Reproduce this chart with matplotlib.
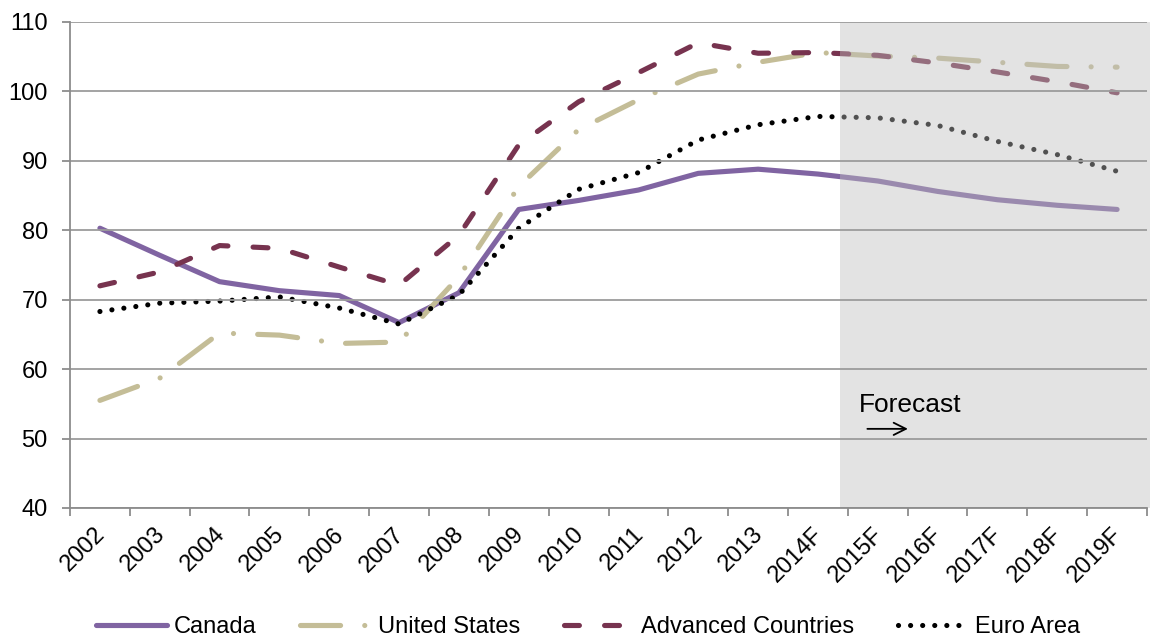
import matplotlib
matplotlib.use("Agg")
import matplotlib.pyplot as plt
from matplotlib.patches import Rectangle
from matplotlib.lines import Line2D
import matplotlib.transforms as mtransforms
import numpy as np

plt.rcParams['font.family'] = ['Liberation Sans', 'DejaVu Sans']

years = ['2002', '2003', '2004', '2005', '2006', '2007', '2008', '2009', '2010',
         '2011', '2012', '2013', '2014F', '2015F', '2016F', '2017F', '2018F', '2019F']
canada = [80.3, 76.4, 72.6, 71.3, 70.6, 66.7, 71.0, 83.0, 84.3, 85.8, 88.2, 88.8,
          88.1, 87.1, 85.6, 84.4, 83.6, 83.0]
united_states = [55.5, 58.7, 65.2, 64.9, 63.7, 63.9, 73.3, 86.3, 94.5, 98.8, 102.5,
                 104.2, 105.6, 105.1, 104.8, 104.2, 103.6, 103.5]
advanced = [72.0, 74.0, 77.8, 77.4, 74.7, 72.1, 79.3, 92.3, 98.5, 102.7, 107.0, 105.5,
            105.6, 105.2, 104.1, 102.8, 101.4, 99.8]
euro_area = [68.3, 69.5, 69.8, 70.4, 68.8, 66.5, 70.7, 80.3, 85.9, 88.3, 93.0, 95.2,
             96.4, 96.2, 95.1, 92.8, 90.9, 88.5]
series_labels = ['Canada', 'United States', 'Advanced Countries', 'Euro Area']

W, H = 1156, 637
fig = plt.figure(figsize=(W / 100, H / 100), dpi=100)
ax = fig.add_axes([70 / W, 1 - 508 / H, (1147 - 70) / W, (508 - 22) / H])

x = np.arange(len(years))
lw = 3.7
styles = [
    dict(color='#8064A2', lw=lw, solid_capstyle='round', linestyle='-'),
    dict(color='#C4BD97', lw=lw, dash_capstyle='round',
         linestyle=(0, (7.8, 4.7, 0.01, 4.7))),
    dict(color='#77334F', lw=lw, dash_capstyle='round',
         linestyle=(0, (2.9, 4.9))),
    dict(color='black', lw=lw, dash_capstyle='round',
         linestyle=(0, (0.01, 2.34))),
]
for data, st in zip([canada, united_states, advanced, euro_area], styles):
    ax.plot(x, data, zorder=2, **st)

ax.set_xlim(-0.5, len(years) - 0.5)
ax.set_ylim(40, 110)
ax.set_yticks(np.arange(40, 111, 10))

# forecast shading (semi-transparent overlay)
rect = Rectangle((12.37, 40), 17.55 - 12.37, 70, facecolor='#BEBEBE', alpha=0.43,
                 edgecolor='none', zorder=2.2, clip_on=False)
ax.add_patch(rect)

ax.set_axisbelow(False)
ax.yaxis.grid(True, color='#9c9c9c', lw=1.3)
ax.xaxis.grid(False)

for s in ['top', 'right']:
    ax.spines[s].set_visible(False)
for s in ['left', 'bottom']:
    ax.spines[s].set_color('#8c8c8c')
    ax.spines[s].set_linewidth(1.3)
    ax.spines[s].set_zorder(2.6)

ax.set_xticks(x)
ax.set_xticklabels(years, rotation=45, ha='right', va='top', rotation_mode='anchor')
ax.set_xticks(np.arange(-0.5, len(years), 1), minor=True)
ax.tick_params(axis='x', which='major', length=0, pad=11, labelsize=17)
ax.tick_params(axis='x', which='minor', length=6, width=1.3, color='#8c8c8c')
ax.tick_params(axis='y', length=6, width=1.3, color='#8c8c8c', pad=10, labelsize=17)

offset = mtransforms.ScaledTranslation(-6 / 100, 0, fig.dpi_scale_trans)
for lab in ax.get_xticklabels():
    lab.set_transform(lab.get_transform() + offset)

ax.text(12.68, 54.8, 'Forecast', fontsize=19, ha='left', va='center', zorder=5)
ax.annotate('', xy=(13.55, 51.4), xytext=(12.78, 51.4),
            arrowprops=dict(arrowstyle='->', lw=1.3, color='black',
                            mutation_scale=22), zorder=5)

handles = [Line2D([], [], **st) for st in styles]
fig.legend(handles, series_labels, loc='center', bbox_to_anchor=(0.509, 0.016), ncol=4,
           frameon=False, fontsize=17, handlelength=3.0, handletextpad=0.28,
           columnspacing=1.85, borderaxespad=0, borderpad=0)

fig.savefig('out.png', dpi=100, facecolor='white')
